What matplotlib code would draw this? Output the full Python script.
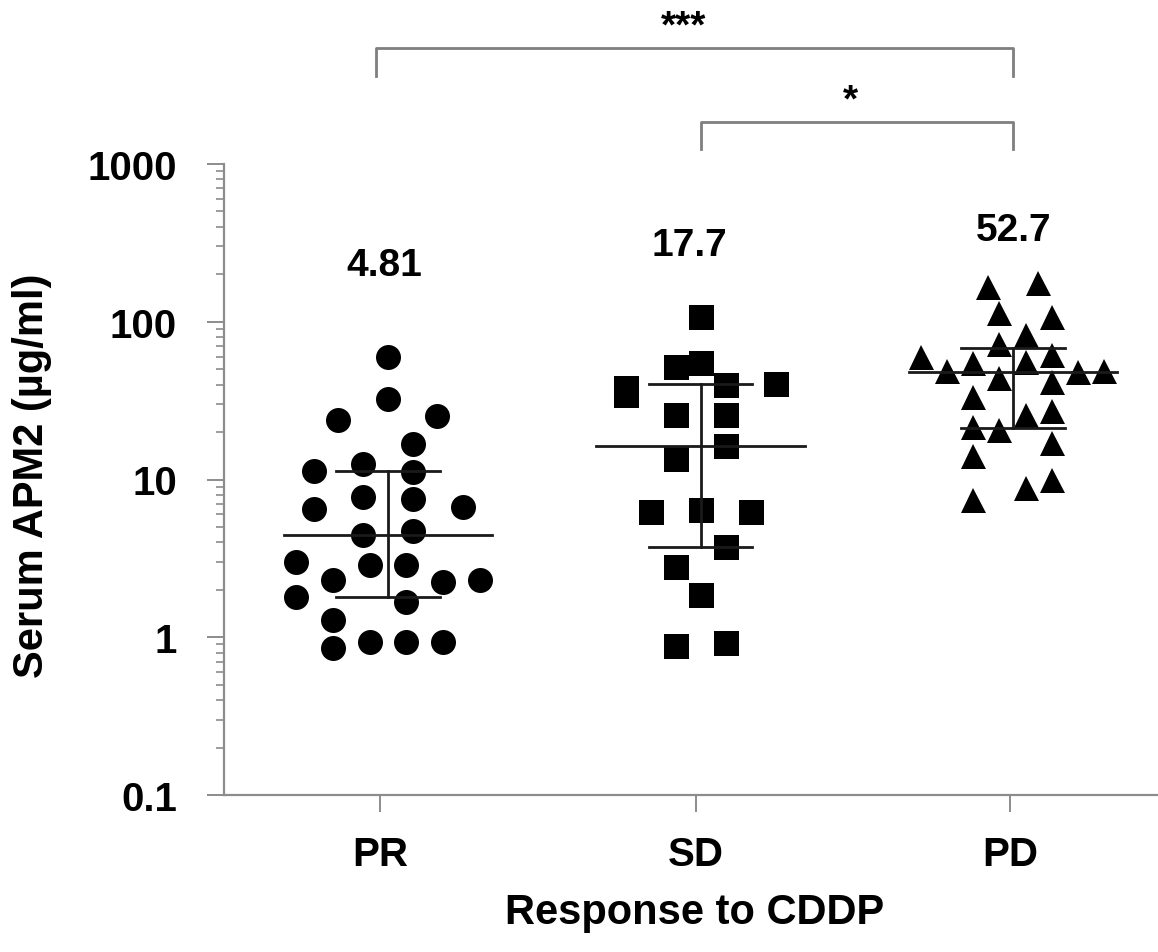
import matplotlib
matplotlib.use("Agg")
import matplotlib.pyplot as plt
import matplotlib.transforms as mtransforms
from matplotlib.ticker import LogLocator, NullFormatter

plt.rcParams['font.family'] = ['Liberation Sans', 'DejaVu Sans']
plt.rcParams['font.weight'] = 'bold'

groups = ["PR", "SD", "PD"]
medians = ["4.81", "17.7", "52.7"]

# serum APM2 values (ug/ml)
pr_vals = [60.0, 32.6, 24.0, 25.2, 16.7, 11.3, 12.5, 11.2, 7.74, 7.55, 6.53, 6.69,
           4.42, 4.75, 2.99, 2.85, 2.85, 2.31, 2.25, 2.32, 1.81, 1.68, 1.29,
           0.855, 0.93, 0.93, 0.93]
pr_dx = [0, 0, -0.16, 0.158, 0.079, -0.238, -0.08, 0.079, -0.08, 0.079, -0.238, 0.241,
         -0.08, 0.079, -0.293, -0.059, 0.058, -0.177, 0.176, 0.293, -0.293, 0.058, -0.177,
         -0.177, -0.059, 0.058, 0.176]

sd_vals = [107.6, 51.8, 54.4, 38.3, 34.2, 40.0, 40.6, 25.5, 25.5, 16.2, 13.4,
           6.22, 6.43, 6.22, 3.73, 2.78, 1.86, 0.885, 0.916]
sd_dx = [0, -0.08, 0, -0.238, -0.238, 0.082, 0.24, -0.08, 0.082, 0.082, -0.08,
         -0.16, 0, 0.16, 0.082, -0.08, 0, -0.08, 0.082]

pd_vals = [166.8, 175, 113, 107.6, 83, 71.8, 61.4, 60, 48.6, 54.4, 55.7, 44.1, 48.2,
           48.9, 41.2, 33.4, 27.1, 25.5, 21.5, 20.5, 17.1, 14.1, 10.0, 8.83, 7.44]
pd_dx = [-0.081, 0.079, -0.045, 0.124, 0.041, -0.045, 0.124, -0.294, -0.212, -0.127,
         0.041, -0.045, 0.209, 0.292, 0.124, -0.127, 0.124, 0.041, -0.127, -0.045,
         0.124, -0.127, 0.124, 0.041, -0.127]

# mean and +/- SD bars
bar_mid = [4.42, 16.2, 47.7]
bar_top = [11.3, 40.6, 68.4]
bar_low = [1.81, 3.73, 21.3]

values = [pr_vals, sd_vals, pd_vals]
offsets = [pr_dx, sd_dx, pd_dx]
markers = ["o", "s", "^"]

fig = plt.figure(figsize=(11.58, 9.53), dpi=100)
ax = fig.add_axes([224 / 1158, 1 - 796 / 953, 1 - 224 / 1158, (796 - 165) / 953])

for i in range(3):
    xs = [i + d for d in offsets[i]]
    ax.plot(xs, values[i], linestyle="none", marker=markers[i], markersize=18,
            markeredgewidth=0, color="black", clip_on=False, zorder=3)
    # mean line, SD whisker and caps
    ax.plot([i - 0.333, i + 0.333], [bar_mid[i], bar_mid[i]], color="#1a1a1a", lw=2, zorder=4)
    ax.plot([i, i], [bar_low[i], bar_top[i]], color="#1a1a1a", lw=2, zorder=4)
    ax.plot([i - 0.165, i + 0.165], [bar_top[i], bar_top[i]], color="#1a1a1a", lw=2, zorder=4)
    ax.plot([i - 0.165, i + 0.165], [bar_low[i], bar_low[i]], color="#1a1a1a", lw=2, zorder=4)

# median labels above each group
med_x = [-0.012, -0.035, 0.003]
med_y = [228, 305, 380]
for i in range(3):
    ax.text(i + med_x[i], med_y[i], medians[i], ha="center", va="center",
            fontsize=28, fontweight="bold")

ax.set_yscale("log")
ax.set_ylim(0.1, 1000)
ax.set_xlim(-0.525, 2.464)
ax.yaxis.set_minor_locator(LogLocator(base=10, subs=range(2, 10), numticks=10))
ax.yaxis.set_minor_formatter(NullFormatter())
ax.set_yticks([0.1, 1, 10, 100, 1000])
ax.set_yticklabels(["0.1", "1", "10", "100", "1000"])
ax.set_xticks([-0.025, 0.985, 1.99])
ax.set_xticklabels(groups)

for side in ["top", "right"]:
    ax.spines[side].set_visible(False)
for side in ["left", "bottom"]:
    ax.spines[side].set_color("#8c8c8c")
    ax.spines[side].set_linewidth(1.6)

ax.tick_params(axis="both", which="major", length=12, width=1.4, color="#8c8c8c",
               labelsize=29, pad=22)
ax.tick_params(axis="x", pad=17)
ax.tick_params(axis="y", which="minor", length=6, width=1.2, color="#8c8c8c")
for lab in ax.get_xticklabels() + ax.get_yticklabels():
    lab.set_fontweight("bold")

fig.text(32 / 1158, 1 - 476 / 953, "Serum APM2 (µg/ml)", rotation=90,
         ha="center", va="center", fontsize=30, fontweight="bold")
fig.text(695 / 1158, 1 - 913 / 953, "Response to CDDP", ha="center", va="center",
         fontsize=30, fontweight="bold")

# significance brackets
trans = mtransforms.blended_transform_factory(ax.transData, fig.transFigure)
brackets = [(-0.04, 2.0, 49, 77, "***", 0.947, 27.5), (1.0, 2.0, 123, 150, "*", 1.48, 101)]
for x0, x1, ytop, ybot, label, xtxt, ytxt in brackets:
    ax.plot([x0, x0, x1, x1], [1 - ybot / 953, 1 - ytop / 953, 1 - ytop / 953, 1 - ybot / 953],
            color="#7f7f7f", lw=2, transform=trans, clip_on=False)
    ax.text(xtxt, 1 - ytxt / 953, label, transform=trans, ha="center",
            va="center", fontsize=28, fontweight="bold")

fig.savefig("out.png", dpi=100)
